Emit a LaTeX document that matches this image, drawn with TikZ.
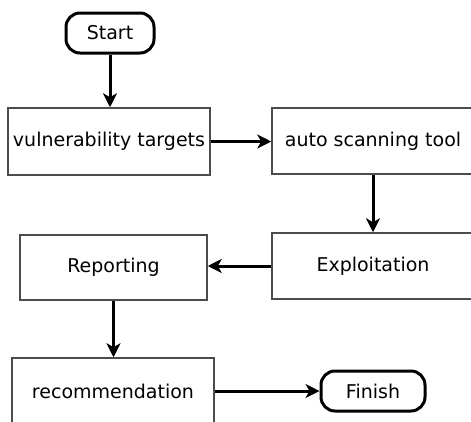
\documentclass[tikz,border=0pt]{standalone}
\usepackage{fontspec}
\setmainfont{DejaVu Sans}
\usetikzlibrary{arrows.meta,positioning}
\begin{document}
\begin{tikzpicture}[x=1pt,y=-1pt,
  every node/.style={font=\fontsize{19}{23}\selectfont, text=black},
  stepbox/.style={draw=black!70, line width=1.5pt, rectangle, inner sep=0pt,
    minimum width=202pt, minimum height=66pt},
  terminal/.style={draw=black, line width=3pt, rectangle, rounded corners=14pt,
    inner sep=0pt, minimum height=40pt},
  flow/.style={line width=3pt, -{Stealth[length=14pt,width=14pt,inset=4pt]}}]
  \useasboundingbox (0,0) rectangle (471,421);
  \clip (0,0) rectangle (471,421);
  % process steps
  \node[terminal, minimum width=88pt] (start) at (110,33) {Start};
  \node[stepbox, minimum height=67pt] (vt) at (109,141.5) {vulnerability targets};
  \node[stepbox] (ast) at (373,141) {auto scanning tool};
  \node[stepbox] (expl) at (373,266) {Exploitation};
  \node[stepbox, minimum width=187pt, minimum height=65pt] (rep) at (113.5,267.5) {Reporting};
  \node[stepbox] (rec) at (113,391) {recommendation};
  \node[terminal, minimum width=104pt] (fin) at (373,391) {Finish};
  % connectors
  \draw[flow] (start.south) -- (vt.north -| start.south);
  \draw[flow] (vt.east) -- (ast.west |- vt.east);
  \draw[flow] (ast.south) -- (expl.north);
  \draw[flow] (expl.west) -- (rep.east |- expl.west);
  \draw[flow] (rep.south) -- (rec.north -| rep.south);
  \draw[flow] (rec.east) -- (fin.west);
\end{tikzpicture}
\end{document}
